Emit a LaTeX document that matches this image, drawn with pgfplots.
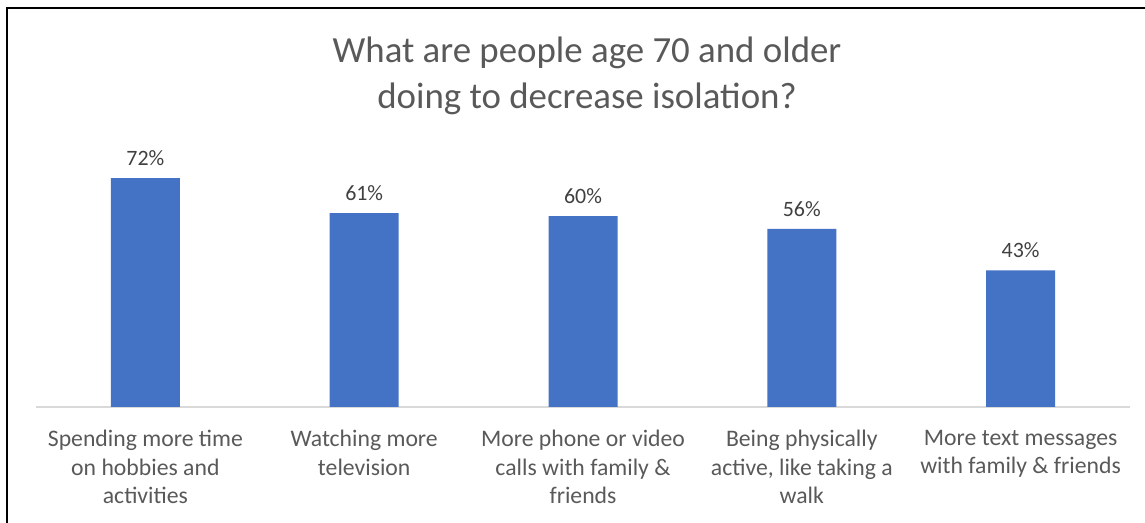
\documentclass[border=0pt]{standalone}
\usepackage{pgfplots}
\pgfplotsset{compat=1.18}
\usepackage{fontspec}
\setmainfont{Carlito}
\definecolor{barblue}{HTML}{4472C4}
\definecolor{txtgray}{HTML}{595959}
\definecolor{lblgray}{HTML}{404040}
\definecolor{axgray}{HTML}{D9D9D9}
\begin{document}
\begin{tikzpicture}[x=1bp,y=1bp]
\path[use as bounding box] (0,0) rectangle (1145,523);
\draw[black, line width=2bp] (7,0) -- (7,515) -- (1145,515);
\node[text=txtgray, align=center, font=\fontsize{37}{46}\selectfont] at (587,447) {What are people age 70 and older\\doing to decrease isolation?};
\begin{axis}[
  at={(36bp,116bp)}, anchor=south west,
  scale only axis, width=1094bp, height=254.4bp,
  xmin=-0.5, xmax=4.5, ymin=0, ymax=80,
  axis y line=none,
  axis x line*=bottom,
  x axis line style={axgray, line width=1.5bp, -},
  xtick=data,
  xticklabels={{Spending more time\\on hobbies and\\activities},{Watching more\\television},{More phone or video\\calls with family \&\\friends},{Being physically\\active, like taking a\\walk},{More text messages\\with family \& friends}},
  xticklabel style={align=center, text=txtgray, font=\fontsize{23.8}{28.2}\selectfont, yshift=-20bp},
  major tick length=0pt,
  ybar, bar width=69bp,
  nodes near coords={\pgfmathprintnumber[assume math mode=true]{\pgfplotspointmeta}\%},
  nodes near coords style={text=lblgray, font=\fontsize{22}{24}\selectfont, yshift=9bp},
]
\addplot[fill=barblue, draw=none] coordinates {(0,72) (1,61) (2,60) (3,56) (4,43)};
\end{axis}
\end{tikzpicture}
\end{document}
